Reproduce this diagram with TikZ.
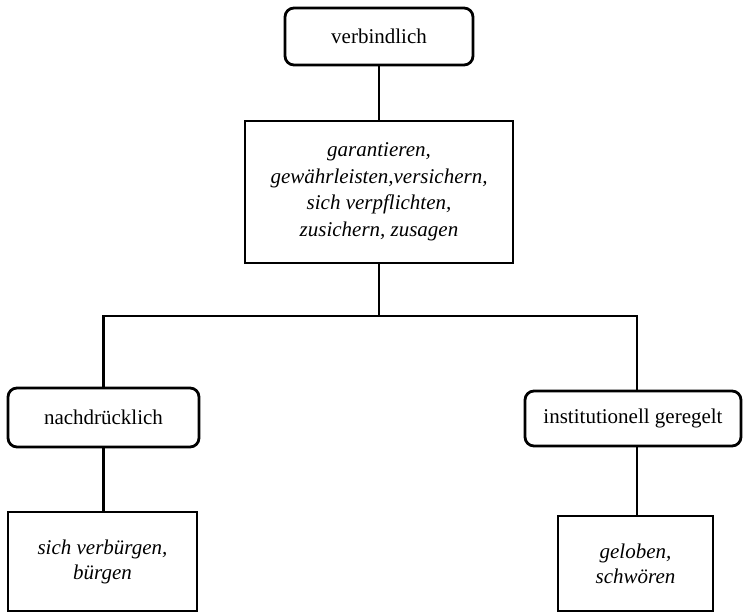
\documentclass[tikz,border=0pt]{standalone}
\usepackage{fontspec}
\setmainfont{Liberation Serif}
\begin{document}
\begin{tikzpicture}[x=1pt,y=-1pt,
  every node/.style={font=\fontsize{21}{26.5}\selectfont, inner sep=0pt, align=center},
  rbox/.style={draw, line width=2.8pt, rounded corners=9pt},
  sbox/.style={draw, line width=2.8pt},
  conn/.style={line width=2.8pt}]
\useasboundingbox (0,0) rectangle (743,613);
\node[rbox, minimum width=188pt, minimum height=57pt] (top) at (379,36.5) {verbindlich};
\node[sbox, minimum width=268pt, minimum height=142pt, font=\fontsize{21}{26.5}\selectfont\itshape] (mid) at (379,192)
  {garantieren,\\gewährleisten,versichern,\\sich verpflichten,\\zusichern, zusagen};
\node[rbox, minimum width=191pt, minimum height=59pt] (lt) at (103.5,417.5) {nachdrücklich};
\node[rbox, minimum width=216pt, minimum height=55pt] (rt) at (633,418.5) {institutionell geregelt};
\node[sbox, minimum width=189pt, minimum height=99pt, font=\fontsize{21}{25}\selectfont\itshape] (lb) at (102.5,561.5) {sich verbürgen,\\bürgen};
\node[sbox, minimum width=155pt, minimum height=95pt, font=\fontsize{21}{25}\selectfont\itshape] (rb) at (635.5,563.5) {geloben,\\schwören};
\coordinate (j) at (379,316);
\draw[conn] (top) -- (mid);
\draw[conn] (mid) -- (j);
\draw[conn] (j) -| (lt.north);
\draw[conn] (j) -| ([xshift=4pt]rt.north);
\draw[conn] (lt.south) -- (lt.south |- lb.north);
\draw[conn] ([xshift=4pt]rt.south) -- ([xshift=4pt]rt.south |- rb.north);
\end{tikzpicture}
\end{document}
